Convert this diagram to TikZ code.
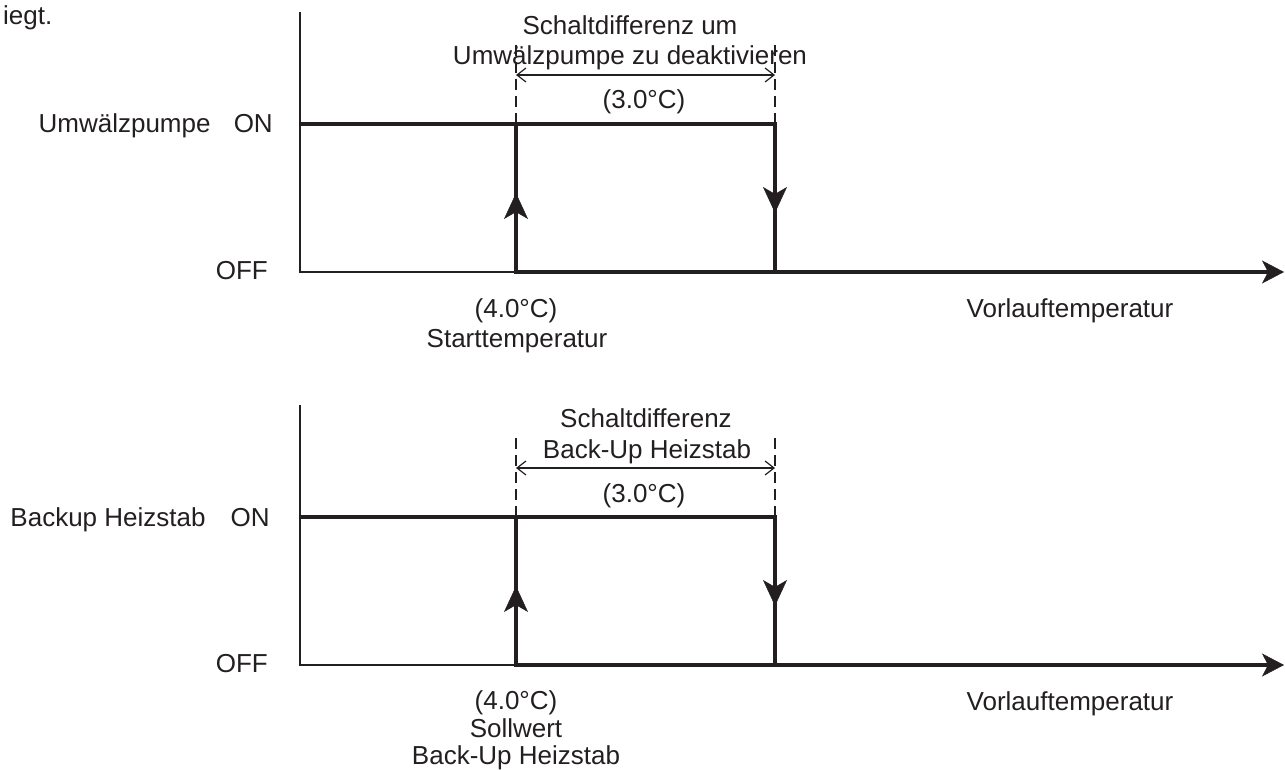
\documentclass[tikz,border=0pt]{standalone}
\usepackage{fontspec}
\setmainfont{Liberation Sans}
\usetikzlibrary{arrows.meta,decorations.markings}
\definecolor{ink}{HTML}{231F20}
\tikzset{
  lbl/.style={font=\fontsize{26}{31}\selectfont, text=ink, inner sep=0pt, anchor=base},
  axisln/.style={draw=ink, line width=1.2pt},
  heavy/.style={draw=ink, line width=4.5pt, line join=miter},
  guide/.style={draw=ink, line width=1.2pt, dash pattern=on 11pt off 6pt},
  dimln/.style={draw=ink, line width=1.2pt, {Straight Barb[length=9pt,width=14pt,line width=1.2pt]}-{Straight Barb[length=9pt,width=14pt,line width=1.2pt]}},
  bigtip/.style={-{Stealth[length=22pt,width=23pt,inset=6pt,line width=0.5pt]}},
  upmark/.style={postaction={decorate}, decoration={markings, mark=at position 79pt with {\arrow{Stealth[length=26pt,width=24pt,inset=7pt,line width=0.5pt]}}}},
  downmark/.style={postaction={decorate}, decoration={markings, mark=at position 89pt with {\arrow{Stealth[length=26pt,width=24pt,inset=7pt,line width=0.5pt]}}}}
}
\begin{document}
\begin{tikzpicture}[x=1pt,y=-1pt]
\useasboundingbox (0,0) rectangle (1285,770);
\node[lbl, anchor=base west] (iegt) at (3,25) {iegt.};

% ---------- top chart ----------
\coordinate (t-axtop) at (300,12);
\coordinate (t-axbot) at (300,272);
\coordinate (t-on0) at (300,124);
\coordinate (t-x1on) at (516,124);
\coordinate (t-x1off) at (516,272);
\coordinate (t-x2on) at (775,124);
\coordinate (t-x2off) at (775,272);
\coordinate (t-end) at (1284,272);
\coordinate (t-g1) at (516,45);
\coordinate (t-g2) at (775,45);
\coordinate (t-d1) at (516,75);
\coordinate (t-d2) at (775,75);

\draw[axisln] (t-axtop) -- (t-axbot) -- (t-x1off);
\draw[guide] (t-g1) -- (t-x1on);
\draw[guide] (t-g2) -- (t-x2on);
\draw[dimln] (t-d1) -- (t-d2);
\draw[heavy] (t-on0) -- (t-x2on) -- (t-x2off);
\draw[heavy, bigtip] (t-x1on) -- (t-x1off) -- (t-end);
\draw[heavy, upmark] (t-x1off) -- (t-x1on);
\draw[heavy, downmark] (t-x2on) -- (t-x2off);

\node[lbl] (t-h1) at (630,35) {Schaltdifferenz um};
\node[lbl] (t-h2) at (630,65) {Umwälzpumpe zu deaktivieren};
\node[lbl] (t-h3) at (644,109) {(3.0°C)};
\node[lbl, anchor=base east] (t-on) at (273,133) {Umwälzpumpe\hspace{16pt} ON};
\node[lbl, anchor=base east] (t-off) at (268,279) {OFF};
\node[lbl] (t-v1) at (516,317) {(4.0°C)};
\node[lbl] (t-v2) at (517,347) {Starttemperatur};
\node[lbl] (t-vl) at (1070,317) {Vorlauftemperatur};

% ---------- bottom chart ----------
\begin{scope}[shift={(0,393)}]
\coordinate (b-axtop) at (300,12);
\coordinate (b-axbot) at (300,272);
\coordinate (b-on0) at (300,124);
\coordinate (b-x1on) at (516,124);
\coordinate (b-x1off) at (516,272);
\coordinate (b-x2on) at (775,124);
\coordinate (b-x2off) at (775,272);
\coordinate (b-end) at (1284,272);
\coordinate (b-g1) at (516,45);
\coordinate (b-g2) at (775,45);
\coordinate (b-d1) at (516,75);
\coordinate (b-d2) at (775,75);

\draw[axisln] (b-axtop) -- (b-axbot) -- (b-x1off);
\draw[guide] (b-g1) -- (b-x1on);
\draw[guide] (b-g2) -- (b-x2on);
\draw[dimln] (b-d1) -- (b-d2);
\draw[heavy] (b-on0) -- (b-x2on) -- (b-x2off);
\draw[heavy, bigtip] (b-x1on) -- (b-x1off) -- (b-end);
\draw[heavy, upmark] (b-x1off) -- (b-x1on);
\draw[heavy, downmark] (b-x2on) -- (b-x2off);

\node[lbl] (b-h1) at (646,34) {Schaltdifferenz};
\node[lbl] (b-h2) at (647,65) {Back-Up Heizstab};
\node[lbl] (b-h3) at (644,109) {(3.0°C)};
\node[lbl, anchor=base east] (b-on) at (270,133) {Backup Heizstab\hspace{18pt} ON};
\node[lbl, anchor=base east] (b-off) at (268,279) {OFF};
\node[lbl] (b-v1) at (516,316) {(4.0°C)};
\node[lbl] (b-v2) at (516,344) {Sollwert};
\node[lbl] (b-v3) at (516,371) {Back-Up Heizstab};
\node[lbl] (b-vl) at (1070,317) {Vorlauftemperatur};
\end{scope}
\end{tikzpicture}
\end{document}
